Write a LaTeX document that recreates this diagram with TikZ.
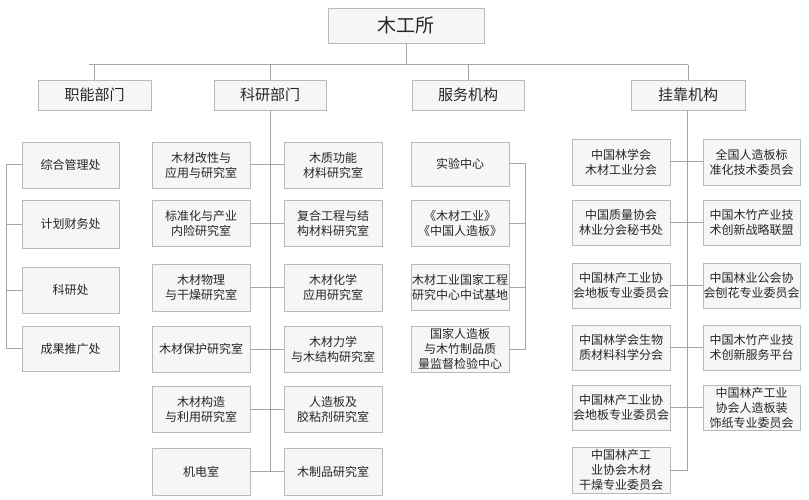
\documentclass[tikz,border=0pt]{standalone}
\usepackage{fontspec}
\setmainfont{Noto Sans CJK SC}
\begin{document}
\begin{tikzpicture}[x=1pt,y=-1pt,
 bx/.style={draw=gray!55,fill=gray!7,line width=0.8pt,align=center,font=\fontsize{12}{15}\selectfont,inner sep=0pt,text=black!85},
 ln/.style={draw=gray!70,line width=1pt}]
\useasboundingbox (0,0) rectangle (809,500);
\newcommand\bb[6]{\node[bx,minimum width=#3-#2,minimum height=#5-#4] (#1) at ({(#2+#3)/2},{(#4+#5)/2}) {#6};}
\bb{top}{328}{484}{8}{43}{\fontsize{19}{22}\selectfont 木工所}
\bb{zn}{38}{151}{80}{110}{\fontsize{15}{18}\selectfont 职能部门}
\bb{ky}{214}{326}{80}{110}{\fontsize{15}{18}\selectfont 科研部门}
\bb{fw}{412}{524}{80}{110}{\fontsize{15}{18}\selectfont 服务机构}
\bb{gk}{631}{745}{80}{110}{\fontsize{15}{18}\selectfont 挂靠机构}
\coordinate (hl) at (89,65); \coordinate (hr) at (688,65);
\draw[ln] (top.south) -- (top.south|-hl);
\draw[ln] (hl) -- (hr);
\foreach \n in {zn,ky,fw,gk} \draw[ln] (\n.north|-hl) -- (\n.north);
% left
\bb{a1}{22}{119}{142}{188}{综合管理处}
\bb{a2}{22}{119}{200}{248}{计划财务处}
\bb{a3}{22}{119}{267}{313}{科研处}
\bb{a4}{22}{119}{326}{371}{成果推广处}
\draw[ln] (a1.west) -- ++(-15,0) |- (a4.west);
\foreach \n in {a2,a3} \draw[ln] (a1.west-|7,0) ++(0,0) (7,0|-\n.west) -- (\n.west);
% research
\bb{b1}{152}{250}{142}{188}{木材改性与\\应用与研究室}
\bb{b2}{152}{250}{200}{246}{标准化与产业\\内险研究室}
\bb{b3}{152}{250}{264}{311}{木材物理\\与干燥研究室}
\bb{b4}{152}{250}{326}{372}{木材保护研究室}
\bb{b5}{152}{250}{386}{432}{木材构造\\与利用研究室}
\bb{b6}{152}{250}{448}{495}{机电室}
\bb{c1}{284}{382}{142}{188}{木质功能\\材料研究室}
\bb{c2}{284}{382}{200}{246}{复合工程与结\\构材料研究室}
\bb{c3}{284}{382}{264}{311}{木材化学\\应用研究室}
\bb{c4}{284}{382}{326}{372}{木材力学\\与木结构研究室}
\bb{c5}{284}{382}{386}{432}{人造板及\\胶粘剂研究室}
\bb{c6}{284}{382}{448}{495}{木制品研究室}
\coordinate (kb) at (ky.south|-b6.east);
\draw[ln] (ky.south) -- (kb);
\foreach \i in {1,...,6} \draw[ln] (b\i.east) -- (c\i.west);
% service
\bb{d1}{411}{509}{142}{186}{实验中心}
\bb{d2}{411}{509}{200}{246}{《木材工业》\\《中国人造板》}
\bb{d3}{411}{509}{264}{310}{木材工业国家工程\\研究中心中试基地}
\bb{d4}{411}{509}{326}{372}{国家人造板\\与木竹制品质\\量监督检验中心}
\draw[ln] (d1.east) -- ++(16,0) |- (d4.east);
\foreach \n in {d2,d3} \draw[ln] (525,0|-\n.east) -- (\n.east);
% affiliated
\bb{e1}{572}{670}{139}{185}{中国林学会\\木材工业分会}
\bb{e2}{572}{670}{200}{245}{中国质量协会\\林业分会秘书处}
\bb{e3}{572}{670}{263}{308}{中国林产工业协\\会地板专业委员会}
\bb{e4}{572}{670}{325}{370}{中国林学会生物\\质材料科学分会}
\bb{e5}{572}{670}{385}{430}{中国林产工业协\\会地板专业委员会}
\bb{e6}{572}{670}{447}{493}{中国林产工\\业协会木材\\干燥专业委员会}
\bb{f1}{703}{800}{139}{185}{全国人造板标\\准化技术委员会}
\bb{f2}{703}{800}{200}{245}{中国木竹产业技\\术创新战略联盟}
\bb{f3}{703}{800}{263}{308}{中国林业公会协\\会刨花专业委员会}
\bb{f4}{703}{800}{325}{370}{中国木竹产业技\\术创新服务平台}
\bb{f5}{703}{800}{385}{430}{中国林产工业\\协会人造板装\\饰纸专业委员会}
\draw[ln] (gk.south-|687,0) -- (687,0|-e6.east) -- (e6.east);
\foreach \i in {1,...,5} \draw[ln] (e\i.east) -- (f\i.west);
\end{tikzpicture}
\end{document}
